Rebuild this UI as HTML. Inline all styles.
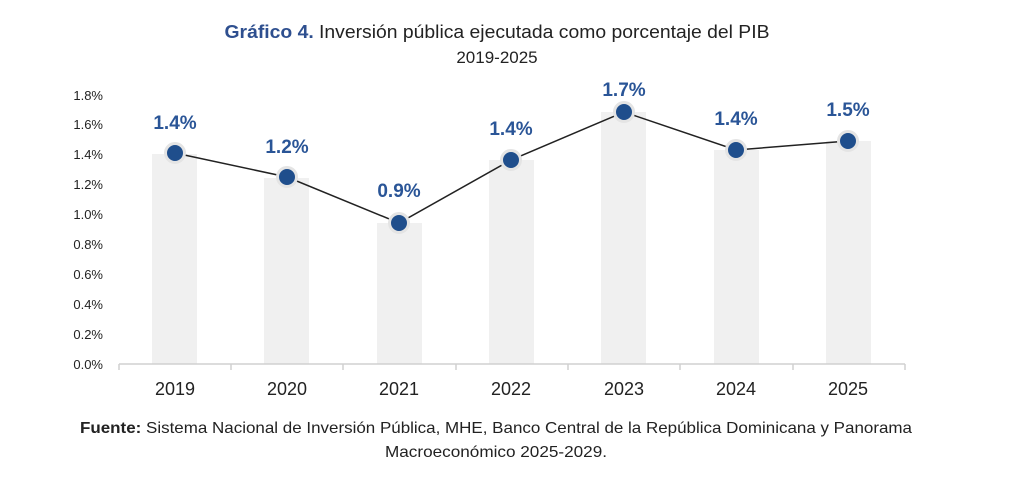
<!DOCTYPE html>
<html><head><meta charset="utf-8"><style>
html,body{margin:0;padding:0;background:#fff;width:1024px;height:496px;overflow:hidden}
svg{display:block}
text{font-family:"Liberation Sans",sans-serif}
</style></head><body>
<svg width="1024" height="496" viewBox="0 0 1024 496">
<text x="497" y="38" text-anchor="middle" font-size="18" fill="#222" textLength="545" lengthAdjust="spacingAndGlyphs"><tspan fill="#2e4f8f" font-weight="bold">Gráfico 4.</tspan> Inversión pública ejecutada como porcentaje del PIB</text>
<text x="497" y="63" text-anchor="middle" font-size="17" fill="#222">2019-2025</text>
<g font-size="13" fill="#222" text-anchor="end">
<text x="103" y="369">0.0%</text><text x="103" y="339">0.2%</text><text x="103" y="309">0.4%</text>
<text x="103" y="279">0.6%</text><text x="103" y="249">0.8%</text><text x="103" y="219">1.0%</text>
<text x="103" y="189">1.2%</text><text x="103" y="159">1.4%</text><text x="103" y="129">1.6%</text>
<text x="103" y="100">1.8%</text>
</g>
<g fill="#f0f0f0">
<rect x="152" y="154" width="45" height="210"/>
<rect x="264" y="178" width="45" height="186"/>
<rect x="377" y="223" width="45" height="141"/>
<rect x="489" y="160" width="45" height="204"/>
<rect x="601" y="112" width="45" height="252"/>
<rect x="714" y="150" width="45" height="214"/>
<rect x="826" y="141" width="45" height="223"/>
</g>
<g stroke="#d0d0d0" stroke-width="1.5">
<line x1="119" y1="364" x2="905" y2="364"/>
<line x1="119" y1="364" x2="119" y2="370"/><line x1="231" y1="364" x2="231" y2="370"/>
<line x1="343" y1="364" x2="343" y2="370"/><line x1="456" y1="364" x2="456" y2="370"/>
<line x1="568" y1="364" x2="568" y2="370"/><line x1="680" y1="364" x2="680" y2="370"/>
<line x1="793" y1="364" x2="793" y2="370"/><line x1="905" y1="364" x2="905" y2="370"/>
</g>
<g font-size="18" fill="#222" text-anchor="middle">
<text x="175" y="395">2019</text><text x="287" y="395">2020</text><text x="399" y="395">2021</text>
<text x="511" y="395">2022</text><text x="624" y="395">2023</text><text x="736" y="395">2024</text>
<text x="848" y="395">2025</text>
</g>
<polyline points="175,153 287,177 399,223 511,160 624,112 736,150 848,141" fill="none" stroke="#222" stroke-width="1.5"/>
<g fill="#1f4e8c" stroke="#e4e4e4" stroke-width="3">
<circle cx="175" cy="153" r="9.5"/><circle cx="287" cy="177" r="9.5"/><circle cx="399" cy="223" r="9.5"/>
<circle cx="511" cy="160" r="9.5"/><circle cx="624" cy="112" r="9.5"/><circle cx="736" cy="150" r="9.5"/>
<circle cx="848" cy="141" r="9.5"/>
</g>
<g font-size="19" font-weight="bold" fill="#2a5597" text-anchor="middle">
<text x="175" y="129">1.4%</text><text x="287" y="153">1.2%</text><text x="399" y="197">0.9%</text>
<text x="511" y="135">1.4%</text><text x="624" y="96">1.7%</text><text x="736" y="125">1.4%</text>
<text x="848" y="116">1.5%</text>
</g>
<text x="496" y="433" text-anchor="middle" font-size="16" fill="#222" textLength="832" lengthAdjust="spacingAndGlyphs"><tspan font-weight="bold">Fuente:</tspan> Sistema Nacional de Inversión Pública, MHE, Banco Central de la República Dominicana y Panorama</text>
<text x="496" y="457" text-anchor="middle" font-size="16" fill="#222" textLength="222" lengthAdjust="spacingAndGlyphs">Macroeconómico 2025-2029.</text>
</svg>
</body></html>
